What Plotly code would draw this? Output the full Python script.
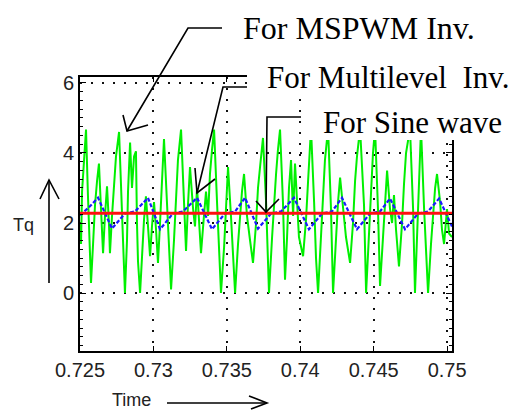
import plotly.graph_objects as go

# ---------------- data (time in ms, torque values) ----------------
GREEN_MS = [725.00, 725.07, 725.14, 725.27, 725.41, 725.54, 725.68, 725.75, 725.89, 726.02,
            726.16, 726.29, 726.43, 726.57, 726.70, 726.84, 726.97, 727.04, 727.18, 727.32,
            727.45, 727.66, 727.79, 727.93, 728.06, 728.20, 728.27, 728.41, 728.54, 728.68,
            728.81, 728.88, 728.95, 729.09, 729.22, 729.36, 729.49, 729.63, 729.77, 729.90,
            730.04, 730.18, 730.31, 730.45, 730.58, 730.72, 730.92, 731.06, 731.20, 731.40,
            731.54, 731.67, 731.88, 732.08, 732.22, 732.35, 732.49, 732.70, 732.83, 732.97,
            733.10, 733.24, 733.44, 733.58, 733.72, 733.85, 733.99, 734.13, 734.33, 734.47,
            734.60, 734.81, 734.94, 735.08, 735.28, 735.42, 735.56, 735.76, 735.90, 736.03,
            736.17, 736.37, 736.58, 736.78, 736.99, 737.12, 737.26, 737.46, 737.67, 737.80,
            737.87, 738.08, 738.21, 738.35, 738.48, 738.62, 738.82, 738.96, 739.10, 739.23,
            739.37, 739.51, 739.64, 739.78, 739.91, 740.19, 740.39, 740.53, 740.66, 740.73,
            740.94, 741.07, 741.21, 741.41, 741.55, 741.68, 741.89, 742.09, 742.23, 742.43,
            742.57, 742.71, 742.91, 743.11, 743.39, 743.59, 743.73, 743.86, 744.07, 744.34,
            744.48, 744.68, 744.82, 744.95, 745.09, 745.29, 745.43, 745.63, 745.77, 745.91,
            746.11, 746.25, 746.38, 746.52, 746.72, 746.93, 747.06, 747.20, 747.47, 747.68,
            747.81, 747.95, 748.09, 748.22, 748.43, 748.56, 748.70, 748.90, 749.04, 749.18,
            749.31, 749.52, 749.65, 749.79, 749.99, 750.13, 750.33]
GREEN_TQ = [2.0, 1.4, 2.9, 3.9, 4.67, 2.8, 1.2, 0.29, 1.4, 2.5,
            3.2, 3.7, 2.4, 1.14, 2.2, 3.05, 2.0, 1.14, 2.2, 3.1,
            3.9, 4.6, 2.9, 1.3, 0.0, 1.5, 2.9, 4.3, 3.0, 3.9,
            4.05, 2.0, 0.9, 0.0, 1.2, 2.1, 2.76, 1.9, 1.05, 1.9,
            2.6, 1.8, 0.86, 2.0, 3.2, 4.4, 2.6, 1.2, 0.1, 1.5,
            2.6, 3.8, 4.67, 2.8, 1.2, 2.5, 3.6, 2.4, 1.9, 3.0,
            2.0, 1.14, 2.2, 2.9, 2.2, 3.4, 4.1, 4.67, 2.6, 1.0,
            0.0, 1.3, 2.5, 3.6, 2.2, 0.9, 0.0, 1.4, 2.3, 2.9,
            3.4, 2.2, 1.5, 0.86, 2.0, 3.0, 3.6, 4.43, 2.6, 1.0,
            0.0, 1.6, 2.6, 3.4, 4.1, 4.67, 2.6, 0.38, 1.6, 3.0,
            3.8, 2.2, 3.7, 2.6, 1.6, 1.05, 2.1, 3.2, 4.1, 4.7,
            2.6, 1.0, 0.0, 1.6, 2.8, 3.8, 4.7, 2.4, 0.0, 1.6,
            2.6, 3.3, 2.4, 1.6, 0.86, 2.0, 3.2, 3.9, 4.7, 2.5,
            0.0, 1.6, 3.0, 4.0, 4.7, 2.4, 0.2, 1.5, 2.6, 3.5,
            2.4, 2.0, 2.8, 1.8, 0.76, 2.0, 3.1, 4.0, 4.7, 2.4,
            0.0, 1.6, 3.0, 4.7, 2.4, 1.0, 0.0, 1.4, 2.3, 3.0,
            3.4, 2.6, 1.8, 1.4, 2.4, 1.7, 1.6]

BLUE_MS = [725.00, 725.61, 726.23, 727.18, 728.06, 728.75, 729.63, 730.45, 731.33, 732.01,
           732.97, 733.99, 734.87, 735.56, 736.24, 737.12, 738.01, 738.69, 739.57, 740.59,
           741.48, 742.16, 742.84, 743.86, 744.75, 745.43, 746.11, 747.13, 748.02, 748.70,
           749.45, 750.33]
BLUE_TQ = [2.22, 2.45, 2.72, 1.84, 2.27, 2.33, 2.72, 1.82, 2.27, 2.33,
           2.72, 1.82, 2.27, 2.33, 2.72, 1.84, 2.27, 2.33, 2.72, 1.82,
           2.27, 2.33, 2.72, 1.82, 2.27, 2.33, 2.70, 1.82, 2.27, 2.33,
           2.70, 1.90]

RED_MS = [725.00, 750.33]
RED_TQ = [2.28, 2.28]

X_TICKS = [0.725, 0.73, 0.735, 0.74, 0.745, 0.75]
X_TICK_TEXT = ["0.725", "0.73", "0.735", "0.74", "0.745", "0.75"]
Y_TICKS = [0, 2, 4, 6]
Y_TICK_TEXT = ["0", "2", "4", "6"]

# ---------------- figure ----------------
W, H = 524, 412
L, R, T, B = 80, 72, 77, 61
PW, PH = W - L - R, H - T - B


def px(x):
    return (x - L) / PW


def py(y):
    return (H - B - y) / PH


fig = go.Figure()
fig.add_trace(go.Scatter(x=[t / 1000 for t in GREEN_MS], y=GREEN_TQ, mode="lines",
                         line=dict(color="#00f000", width=2),
                         hoverinfo="skip", showlegend=False))
fig.add_trace(go.Scatter(x=[t / 1000 for t in BLUE_MS], y=BLUE_TQ, mode="lines",
                         line=dict(color="#1a1aff", width=2.2, dash="4px,2px"),
                         hoverinfo="skip", showlegend=False))
fig.add_trace(go.Scatter(x=[t / 1000 for t in RED_MS], y=RED_TQ, mode="lines",
                         line=dict(color="#ff1010", width=3),
                         hoverinfo="skip", showlegend=False))

axis_font = dict(family="Liberation Sans, Arial, sans-serif", size=20, color="#222")

fig.update_layout(
    width=W, height=H, autosize=False,
    margin=dict(l=L, r=R, t=T, b=B, pad=0),
    paper_bgcolor="white", plot_bgcolor="white",
    xaxis=dict(range=[0.725, 0.75033], tickvals=X_TICKS, ticktext=X_TICK_TEXT,
               showgrid=True, gridcolor="#111", griddash="2px,9px", gridwidth=2,
               showline=True, linecolor="black", linewidth=2, mirror="ticks",
               ticks="inside", ticklen=5, tickcolor="black", tickfont=axis_font,
               zeroline=False, fixedrange=True),
    yaxis=dict(range=[-1.657, 6.171], tickvals=Y_TICKS, ticktext=Y_TICK_TEXT,
               showgrid=True, gridcolor="#111", griddash="2px,9px", gridwidth=2,
               showline=True, linecolor="black", linewidth=2, mirror="ticks",
               ticks="inside", ticklen=6, tickcolor="black", tickfont=axis_font,
               minor=dict(dtick=0.25, ticks="inside", ticklen=3, tickcolor="black", showgrid=False),
               zeroline=False, fixedrange=True),
)

shapes = []
# white boxes behind the labels (cover the top-right of the frame)
shapes.append(dict(type="rect", xref="paper", yref="paper", layer="above",
                   x0=px(247), x1=px(W + 2), y0=py(97), y1=py(52),
                   fillcolor="white", line=dict(width=0)))
shapes.append(dict(type="rect", xref="paper", yref="paper", layer="above",
                   x0=px(302), x1=px(W + 2), y0=py(140), y1=py(96),
                   fillcolor="white", line=dict(width=0)))


def path(points):
    s = "M {} {}".format(px(points[0][0]), py(points[0][1]))
    for (a, b) in points[1:]:
        s += " L {} {}".format(px(a), py(b))
    return s


LINE = dict(color="black", width=1.6)
leaders = [
    [(222, 28), (188, 28), (127, 131)],
    [(123, 115), (127, 131), (148, 125)],
    [(247, 87), (223, 87), (197, 193)],
    [(195, 168), (197, 193), (215, 179)],
    [(301, 117), (267, 117), (266, 212)],
    [(256, 201), (266, 212), (279, 199)],
    # axis direction arrows
    [(49, 283), (49, 180)],
    [(40, 199), (49, 180), (59, 199)],
    [(167, 403), (267, 403)],
    [(249, 396), (267, 403), (251, 409)],
]
for pts in leaders:
    shapes.append(dict(type="path", xref="paper", yref="paper", layer="above",
                       path=path(pts), line=LINE))
fig.update_layout(shapes=shapes)

serif_big = dict(family="Liberation Serif, Times New Roman, serif", size=32, color="black")
serif = dict(family="Liberation Serif, Times New Roman, serif", size=31, color="black")
sans = dict(family="Liberation Sans, Arial, sans-serif", size=18, color="#222")
annos = [
    dict(text="For MSPWM Inv.", x=px(241), y=py(28), xanchor="left", yanchor="middle", font=serif_big),
    dict(text="For Multilevel\u00a0 Inv.", x=px(265), y=py(77), xanchor="left", yanchor="middle", font=serif),
    dict(text="For Sine wave", x=px(321), y=py(122), xanchor="left", yanchor="middle", font=serif),
    dict(text="Tq", x=px(23), y=py(225), xanchor="center", yanchor="middle", font=sans),
    dict(text="Time", x=px(131), y=py(400), xanchor="center", yanchor="middle", font=sans),
]
for a in annos:
    a.update(xref="paper", yref="paper", showarrow=False)
fig.update_layout(annotations=annos)

fig.write_html("out.html")
